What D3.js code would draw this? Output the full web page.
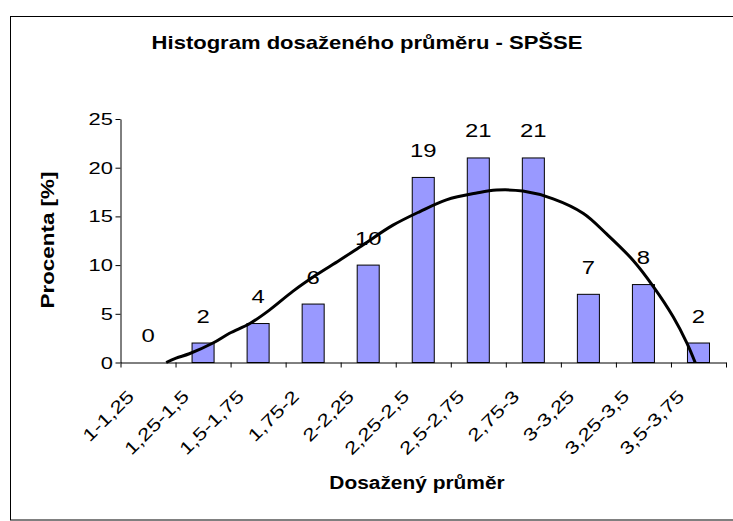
<!DOCTYPE html>
<html>
<head>
<meta charset="utf-8">
<script src="https://cdn.jsdelivr.net/npm/d3@7"></script>
<style>
  html, body { margin: 0; padding: 0; background: #fff; }
  svg { display: block; }
  text { font-family: "Liberation Sans", Arial, sans-serif; fill: #000; }
</style>
</head>
<body>
<svg id="chart" width="733" height="521"></svg>
<script>
const categories = ["1-1,25", "1,25-1,5", "1,5-1,75", "1,75-2", "2-2,25", "2,25-2,5",
                    "2,5-2,75", "2,75-3", "3-3,25", "3,25-3,5", "3,5-3,75"];
const values = [0, 2, 4, 6, 10, 19, 21, 21, 7, 8, 2];
const yTicks = [0, 5, 10, 15, 20, 25];
// trend line: position in category units (0 = left edge of axis), value in %
const trendPos = [0.83, 1.01, 1.25, 1.68, 1.98, 2.35, 2.71, 3.13, 3.56, 3.98, 4.41, 4.95, 5.44,
                  5.92, 6.47, 6.83, 7.31, 7.86, 8.41, 8.83, 9.31, 9.68, 10.04, 10.29, 10.44];
const trendVal = [0, 0.45, 0.9, 2.0, 3.0, 4.0, 5.4, 7.3, 9.0, 10.5, 12.1, 14.1, 15.5,
                  16.7, 17.4, 17.7, 17.6, 16.8, 15.3, 13.2, 10.5, 7.8, 4.7, 2.0, 0];

const title = "Histogram dosaženého průměru - SPŠSE";
const xTitle = "Dosažený průměr";
const yTitle = "Procenta [%]";

const svg = d3.select("#chart");
const X0 = 120.5, X1 = 726, Y0 = 362.5, Y1 = 119;
const SX = 1.29; // horizontal stretch of the text as in the reference

// outer border
svg.append("rect").attr("x", 10.5).attr("y", 16.5).attr("width", 740).attr("height", 503.5)
  .attr("fill", "none").attr("stroke", "#000").attr("stroke-width", 1);

const x = d3.scaleBand().domain(categories).range([X0, X1]).paddingInner(0.6).paddingOuter(0.3);
const xPos = d3.scaleLinear().domain([0, categories.length]).range([X0, X1]);
const y = d3.scaleLinear().domain([0, 25]).range([Y0, Y1]);

// title
svg.append("text").attr("transform", `translate(367,49) scale(1.16,1)`).attr("text-anchor", "middle")
  .attr("font-size", 19).attr("font-weight", "bold").text(title);

// bars
svg.selectAll("rect.bar").data(values).enter().append("rect").attr("class", "bar")
  .attr("x", (d, i) => x(categories[i]))
  .attr("y", d => y(d))
  .attr("width", x.bandwidth())
  .attr("height", d => Y0 - y(d))
  .attr("fill", "#9999FF").attr("stroke", "#000").attr("stroke-width", 1);

// y axis
const yAxis = d3.axisLeft(y).tickValues(yTicks).tickSize(5).tickSizeOuter(0).tickFormat("");
const gy = svg.append("g").attr("transform", `translate(${X0},0)`).call(yAxis);
gy.selectAll("line, path").attr("stroke", "#000");
svg.selectAll("text.ytick").data(yTicks).enter().append("text").attr("class", "ytick")
  .attr("text-anchor", "end").attr("font-size", 17)
  .attr("transform", d => `translate(113,${y(d) + 6}) scale(${SX},1)`)
  .text(d => d);

// x axis with ticks at category boundaries
const boundaries = d3.range(categories.length + 1);
const xAxis = d3.axisBottom(xPos).tickValues(boundaries).tickSize(5).tickSizeOuter(0).tickFormat("");
const gx = svg.append("g").attr("transform", `translate(0,${Y0})`).call(xAxis);
gx.selectAll("line, path").attr("stroke", "#000");

// category labels rotated
svg.selectAll("text.cat").data(categories).enter().append("text").attr("class", "cat")
  .attr("text-anchor", "end").attr("font-size", 17.5)
  .attr("transform", d => `translate(${x(d) + x.bandwidth() / 2 - 13},${Y0 + 35}) rotate(-45) scale(${SX},1)`)
  .text(d => d);

// value labels
svg.selectAll("text.val").data(values).enter().append("text").attr("class", "val")
  .attr("text-anchor", "middle").attr("font-size", 18.5)
  .attr("transform", (d, i) => `translate(${x(categories[i]) + x.bandwidth() / 2},${y(d) - 20.5}) scale(${SX},1)`)
  .text(d => d);

// trend line
const line = d3.line().x((d, i) => xPos(trendPos[i])).y(d => y(d)).curve(d3.curveCatmullRom);
svg.append("path").datum(trendVal).attr("d", line)
  .attr("fill", "none").attr("stroke", "#000").attr("stroke-width", 3);

// axis titles
svg.append("text").attr("transform", `translate(417,489) scale(1.1,1)`).attr("text-anchor", "middle")
  .attr("font-size", 19).attr("font-weight", "bold").text(xTitle);
svg.append("text").attr("transform", `translate(54,240) rotate(-90) scale(1.18,1)`).attr("text-anchor", "middle")
  .attr("font-size", 19).attr("font-weight", "bold").text(yTitle);
</script>
</body>
</html>
